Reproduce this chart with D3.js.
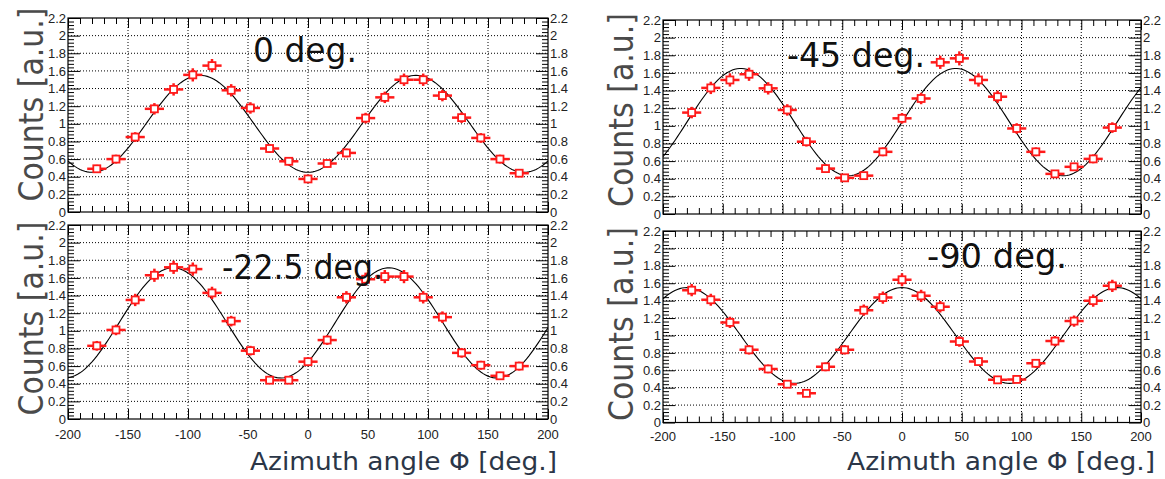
<!DOCTYPE html>
<html>
<head>
<meta charset="utf-8">
<script src="https://cdn.jsdelivr.net/npm/d3@7/dist/d3.min.js"></script>
<style>
  html, body { margin: 0; padding: 0; background: #fff; }
  svg { display: block; }
</style>
</head>
<body>
<svg id="chart" width="1165" height="479"></svg>
<script>
// Azimuthal distributions for four polarisation angles, with cos(2Φ) fits.

// Bin centres of the azimuth angle Φ [deg.]
const phi = [-176, -160, -144, -128, -112, -96, -80, -64, -48, -32, -16, 0,
             16, 32, 48, 64, 80, 96, 112, 128, 144, 160, 176];
const binHalfWidth = 8;

// Counts [a.u.] per panel
const counts0 = [0.49, 0.60, 0.85, 1.17, 1.39, 1.555, 1.66, 1.38, 1.18, 0.72, 0.575, 0.375,
                 0.55, 0.67, 1.065, 1.30, 1.50, 1.50, 1.32, 1.07, 0.84, 0.60, 0.44];
const counts225 = [0.83, 1.01, 1.35, 1.63, 1.72, 1.70, 1.43, 1.11, 0.775, 0.44, 0.44, 0.65,
                   0.895, 1.38, 1.585, 1.615, 1.615, 1.38, 1.155, 0.75, 0.61, 0.49, 0.60];
const counts45 = [1.15, 1.43, 1.52, 1.585, 1.425, 1.18, 0.82, 0.515, 0.41, 0.435, 0.705, 1.085,
                  1.31, 1.72, 1.765, 1.52, 1.33, 0.97, 0.705, 0.455, 0.535, 0.625, 0.98];
const counts90 = [1.52, 1.41, 1.15, 0.835, 0.615, 0.44, 0.335, 0.64, 0.835, 1.29, 1.435, 1.64,
                  1.455, 1.33, 0.93, 0.70, 0.49, 0.495, 0.68, 0.935, 1.165, 1.40, 1.57];

// Statistical errors on the counts
const err0 = [0.045, 0.05, 0.055, 0.065, 0.07, 0.075, 0.075, 0.07, 0.065, 0.05, 0.045, 0.04,
              0.045, 0.05, 0.06, 0.065, 0.07, 0.07, 0.065, 0.06, 0.055, 0.05, 0.045];
const err225 = [0.055, 0.06, 0.07, 0.075, 0.075, 0.075, 0.07, 0.06, 0.055, 0.04, 0.04, 0.05,
                0.055, 0.07, 0.075, 0.075, 0.075, 0.07, 0.065, 0.055, 0.05, 0.045, 0.05];
const err45 = [0.065, 0.07, 0.075, 0.075, 0.07, 0.065, 0.055, 0.045, 0.04, 0.04, 0.05, 0.06,
               0.065, 0.075, 0.08, 0.075, 0.07, 0.06, 0.05, 0.04, 0.045, 0.05, 0.06];
const err90 = [0.07, 0.07, 0.065, 0.055, 0.05, 0.04, 0.035, 0.05, 0.055, 0.065, 0.07, 0.075,
               0.07, 0.065, 0.06, 0.05, 0.045, 0.045, 0.05, 0.06, 0.065, 0.07, 0.07];

// Fit results: mean + amplitude * cos(2 (Φ - phase))
const fitMean  = [1.00, 1.09, 1.042, 1.00];
const fitAmp   = [0.55, 0.625, 0.608, 0.55];
const fitPhase = [90, 67.5, 45, 0];

const panelTitles = ["0 deg.", "-22.5 deg.", "-45 deg.", "-90 deg."];
const yTicks = [0, 0.2, 0.4, 0.6, 0.8, 1, 1.2, 1.4, 1.6, 1.8, 2, 2.2];
const xTicks = [-200, -150, -100, -50, 0, 50, 100, 150, 200];
const yTitle = "Counts [a.u.]";
const xTitle = "Azimuth angle \u03A6 [deg.]";

const seriesList = [counts0, counts225, counts45, counts90];
const errList = [err0, err225, err45, err90];

// Frame geometry of each pad, and where its texts sit
const layout = [
  { left: 68,  right: 548,  top: 18,  bottom: 212,
    title: { x: 253, y: 62, len: 104 }, ytitle: { x: 43, y0: 7, y1: 202 }, xtitle: null },
  { left: 68,  right: 548,  top: 225, bottom: 419,
    title: { x: 222, y: 279, len: 161 }, ytitle: { x: 43, y0: 222, y1: 415 },
    xtitle: { x: 250, y: 470, len: 307 }, xlabY: 439 },
  { left: 663, right: 1141, top: 20,  bottom: 214,
    title: { x: 787, y: 67, len: 138 }, ytitle: { x: 633, y0: 15, y1: 205 }, xtitle: null },
  { left: 663, right: 1141, top: 231, bottom: 422.5,
    title: { x: 927, y: 268, len: 140 }, ytitle: { x: 633, y0: 228, y1: 420 },
    xtitle: { x: 847, y: 470, len: 308 }, xlabY: 441 }
];

const svg = d3.select("#chart");
const tickFont = "'Liberation Sans', Arial, Helvetica, sans-serif";
const titleFont = "'DejaVu Sans', 'Noto Sans', sans-serif";
const red = "#ff1a1a";

layout.forEach((L, i) => {
  const x = d3.scaleLinear().domain([-200, 200]).range([L.left, L.right]);
  const y = d3.scaleLinear().domain([0, 2.2]).range([L.bottom, L.top]);
  const g = svg.append("g");
  const clipId = "clip" + i;
  svg.append("clipPath").attr("id", clipId)
    .append("rect").attr("x", L.left).attr("y", L.top)
    .attr("width", L.right - L.left).attr("height", L.bottom - L.top);

  // dotted grid
  g.append("g").selectAll("line").data(xTicks.slice(1, -1)).join("line")
    .attr("x1", d => x(d)).attr("x2", d => x(d))
    .attr("y1", L.top).attr("y2", L.bottom)
    .attr("stroke", "#000").attr("stroke-width", 1).attr("stroke-dasharray", "1,2");
  g.append("g").selectAll("line").data(yTicks.slice(1, -1)).join("line")
    .attr("x1", L.left).attr("x2", L.right)
    .attr("y1", d => y(d)).attr("y2", d => y(d))
    .attr("stroke", "#000").attr("stroke-width", 1).attr("stroke-dasharray", "1,2");

  // y axes: left and right, ticks pointing inward
  const yMinor = d3.range(0, 2.2001, 0.04);
  const yMaj = t => Math.abs(Math.round(t / 0.2) * 0.2 - t) < 1e-6;
  const axL = d3.axisRight(y).tickValues(yMinor).tickFormat("")
    .tickSizeOuter(0).tickSizeInner(0);
  const axLg = g.append("g").attr("transform", `translate(${L.left},0)`).call(axL);
  axLg.select(".domain").remove();
  axLg.selectAll(".tick line").attr("x2", d => yMaj(d) ? 12 : 6).attr("stroke", "#000");
  const axR = d3.axisLeft(y).tickValues(yMinor).tickFormat("")
    .tickSizeOuter(0).tickSizeInner(0);
  const axRg = g.append("g").attr("transform", `translate(${L.right},0)`).call(axR);
  axRg.select(".domain").remove();
  axRg.selectAll(".tick line").attr("x2", d => yMaj(d) ? -12 : -6).attr("stroke", "#000");

  // x axes: bottom and top, ticks pointing inward
  const xMinor = d3.range(-200, 200.001, 10);
  const xMaj = t => Math.abs(t % 50) < 1e-6;
  const axB = d3.axisTop(x).tickValues(xMinor).tickFormat("").tickSizeOuter(0).tickSizeInner(0);
  const axBg = g.append("g").attr("transform", `translate(0,${L.bottom})`).call(axB);
  axBg.select(".domain").remove();
  axBg.selectAll(".tick line").attr("y2", d => xMaj(d) ? -10 : -6).attr("stroke", "#000");
  const axT = d3.axisBottom(x).tickValues(xMinor).tickFormat("").tickSizeOuter(0).tickSizeInner(0);
  const axTg = g.append("g").attr("transform", `translate(0,${L.top})`).call(axT);
  axTg.select(".domain").remove();
  axTg.selectAll(".tick line").attr("y2", d => xMaj(d) ? 10 : 6).attr("stroke", "#000");

  // frame
  g.append("rect").attr("x", L.left).attr("y", L.top)
    .attr("width", L.right - L.left).attr("height", L.bottom - L.top)
    .attr("fill", "none").attr("stroke", "#000").attr("stroke-width", 1.2);

  // y tick labels on both sides
  const fmt = d => d3.format("")(+d.toFixed(1));
  g.append("g").selectAll("text").data(yTicks).join("text")
    .attr("x", L.left - 2).attr("y", d => y(d)).attr("dy", "0.36em")
    .attr("text-anchor", "end").attr("font-family", tickFont).attr("font-size", 13)
    .attr("fill", "#222").text(fmt);
  g.append("g").selectAll("text").data(yTicks).join("text")
    .attr("x", L.right + 2).attr("y", d => y(d)).attr("dy", "0.36em")
    .attr("text-anchor", "start").attr("font-family", tickFont).attr("font-size", 13)
    .attr("fill", "#222").text(fmt);

  // x tick labels and title on the lower pads
  if (L.xtitle) {
    g.append("g").selectAll("text").data(xTicks).join("text")
      .attr("x", d => x(d)).attr("y", L.xlabY)
      .attr("text-anchor", "middle").attr("font-family", tickFont).attr("font-size", 13)
      .attr("fill", "#222").text(d => d);
    g.append("text").attr("x", L.xtitle.x).attr("y", L.xtitle.y)
      .attr("font-family", titleFont).attr("font-size", 25).attr("fill", "#2b3647")
      .attr("textLength", L.xtitle.len).attr("lengthAdjust", "spacingAndGlyphs")
      .text(xTitle);
  }

  // y axis title, glyphs stretched a little across the text direction
  g.append("text")
    .attr("transform", `translate(${L.ytitle.x},${(L.ytitle.y0 + L.ytitle.y1) / 2}) rotate(-90) scale(1,1.15)`)
    .attr("text-anchor", "middle").attr("font-family", titleFont).attr("font-size", 30)
    .attr("fill", "#4a4a4a").text(yTitle);

  // fitted curve
  const fit = p => fitMean[i] + fitAmp[i] * Math.cos(2 * (p - fitPhase[i]) * Math.PI / 180);
  const line = d3.line().x(p => x(p)).y(p => y(fit(p)));
  g.append("path").datum(d3.range(-200, 200.01, 2))
    .attr("clip-path", `url(#${clipId})`)
    .attr("d", line).attr("fill", "none").attr("stroke", "#000").attr("stroke-width", 1.1);

  // data points with error bars
  const pts = phi.map((p, k) => ({ p, v: seriesList[i][k], e: errList[i][k] }));
  const pg = g.append("g").attr("clip-path", `url(#${clipId})`);
  pg.selectAll("line.h").data(pts).join("line").attr("class", "h")
    .attr("x1", d => x(d.p - binHalfWidth)).attr("x2", d => x(d.p + binHalfWidth))
    .attr("y1", d => y(d.v)).attr("y2", d => y(d.v))
    .attr("stroke", red).attr("stroke-width", 2.5);
  pg.selectAll("line.v").data(pts).join("line").attr("class", "v")
    .attr("x1", d => x(d.p)).attr("x2", d => x(d.p))
    .attr("y1", d => y(d.v - d.e)).attr("y2", d => y(d.v + d.e))
    .attr("stroke", red).attr("stroke-width", 2.5);
  pg.selectAll("rect").data(pts).join("rect")
    .attr("x", d => x(d.p) - 3.5).attr("y", d => y(d.v) - 3.5)
    .attr("width", 7).attr("height", 7)
    .attr("fill", "#fff").attr("stroke", red).attr("stroke-width", 1.8);

  // pad title
  g.append("text").attr("x", L.title.x).attr("y", L.title.y)
    .attr("font-family", titleFont).attr("font-size", 34).attr("fill", "#111")
    .attr("textLength", L.title.len).attr("lengthAdjust", "spacingAndGlyphs")
    .text(panelTitles[i]);
});
</script>
</body>
</html>
